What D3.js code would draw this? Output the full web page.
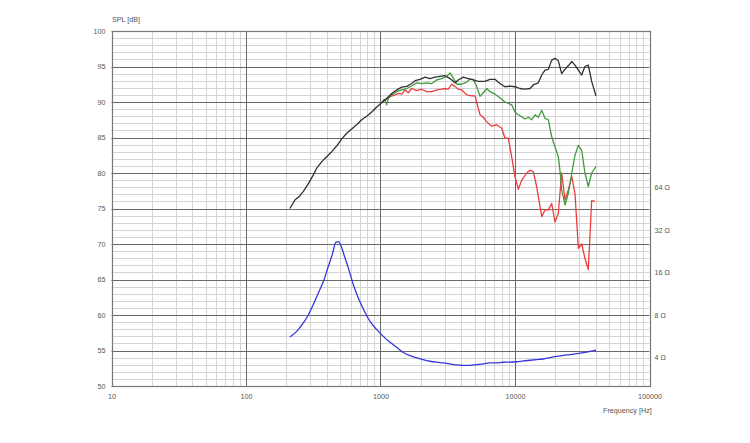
<!DOCTYPE html>
<html>
<head>
<meta charset="utf-8">
<script src="https://cdn.jsdelivr.net/npm/d3@7"></script>
<style>
  html, body { margin: 0; padding: 0; background: #fff; }
  svg { display: block; }
  text { font-family: "Liberation Sans", Arial, sans-serif; fill: #555; }
</style>
</head>
<body>
<svg id="chart" width="750" height="443"></svg>
<script>
// ---------------- data ----------------
const xTicks = [10, 100, 1000, 10000, 100000];
const yTicks = [50, 55, 60, 65, 70, 75, 80, 85, 90, 95, 100];
const impTicks = [4, 8, 16, 32, 64];

// on-axis SPL (black)
const freqBlack = [212, 231, 252, 267, 291, 316, 336, 366, 398, 434, 472, 515, 561, 611, 665, 725, 789, 861, 938,
  1021, 1112, 1211, 1319, 1439, 1567, 1706, 1807, 1968, 2143, 2333, 2541, 2767, 3020, 3289, 3581, 3784, 4130,
  4498, 4898, 5333, 5984, 6516, 7096, 7727, 8433, 9183, 10000, 10887, 11858, 12942, 13677, 14894, 15812, 16711,
  17701, 18750, 19815, 20989, 22233, 23550, 24889, 26424, 27925, 29580, 31333, 33113, 35075, 37154, 39994];
const splBlack = [75.0, 76.2, 76.8, 77.4, 78.5, 79.7, 80.7, 81.6, 82.3, 83.0, 83.8, 84.8, 85.6, 86.2, 86.8, 87.5, 88.0, 88.6, 89.3,
  89.9, 90.5, 91.2, 91.7, 92.1, 92.2, 92.6, 93.0, 93.2, 93.5, 93.3, 93.5, 93.6, 93.7, 93.3, 92.7, 93.1, 93.5,
  93.3, 93.1, 92.9, 92.9, 93.2, 93.2, 92.6, 92.15, 92.25, 92.15, 91.9, 91.8, 91.9, 92.4, 92.7, 93.8, 94.5,
  94.6, 95.9, 96.15, 95.8, 94.0, 94.6, 95.1, 95.7, 95.2, 94.5, 93.8, 95.0, 95.2, 92.9, 90.85];

// 30 degrees (green)
const freqGreen = [1021, 1080, 1112, 1143, 1211, 1319, 1439, 1567, 1706, 1858, 2023, 2203, 2404, 2618, 2851, 3105,
  3289, 3475, 3690, 3899, 4130, 4375, 4624, 4898, 5188, 5495, 5808, 6166, 6516, 7096, 7727, 8433, 9441, 10000,
  10593, 11220, 11858, 12560, 13305, 14092, 14894, 15812, 16711, 17701, 18750, 19815, 20989, 21627, 22233,
  23550, 24889, 26424, 27925, 29580, 31333, 33113, 35075, 37154, 39994];
const splGreen = [90.0, 90.4, 89.6, 90.5, 91.0, 91.45, 91.7, 91.9, 92.25, 92.7, 92.6, 92.7, 92.6, 93.1, 93.3, 93.6,
  94.1, 93.4, 92.5, 92.5, 92.6, 92.8, 93.2, 93.2, 92.2, 90.8, 91.3, 91.9, 91.45, 91.1, 90.6, 90.0, 89.6, 88.6,
  88.2, 87.9, 87.6, 87.85, 87.5, 88.2, 87.85, 88.8, 87.7, 87.5, 85.1, 83.7, 82.3, 80.2, 77.6,
  75.5, 77.1, 80.0, 82.5, 83.9, 83.2, 80.0, 78.1, 80.0, 80.9];

// 60 degrees (red)
const freqRed = [1049, 1112, 1177, 1282, 1356, 1439, 1521, 1610, 1706, 1858, 2023, 2203, 2404, 2618, 2851, 3020,
  3192, 3381, 3581, 3784, 4018, 4375, 4764, 5047, 5333, 5495, 5808, 6166, 6714, 7311, 7962, 8433, 8913, 9441,
  10000, 10593, 11220, 12218, 12942, 13677, 14488, 15346, 15812, 16711, 17701, 18750, 19815, 20989, 22233,
  23550, 24889, 26424, 27925, 29580, 31333, 33113, 35075, 37154, 39355];
const splRed = [90.3, 90.4, 90.75, 91.0, 91.2, 91.1, 91.7, 91.3, 91.9, 91.6, 91.8, 91.45, 91.45, 91.7, 91.8, 91.9,
  91.8, 92.5, 92.2, 91.8, 91.7, 91.0, 90.85, 90.85, 89.1, 88.2, 87.85, 87.2, 86.6, 86.8, 86.3, 84.9, 84.9, 82.3,
  79.5, 77.7, 79.0, 80.0, 80.4, 80.2, 78.1, 75.25, 73.85, 74.8, 74.8, 75.7, 73.1, 74.3, 80.0,
  76.2, 77.6, 79.5, 77.1, 69.4, 70.0, 68.0, 66.4, 76.1, 76.0];

// impedance (blue), ohms
const freqImp = [212, 238, 267, 291, 316, 345, 376, 409, 441, 464, 486, 506, 535, 577, 628, 684, 745, 836, 938,
  1049, 1177, 1319, 1479, 1656, 1858, 2080, 2333, 2618, 2931, 3289, 3690, 4130, 4624, 5188, 5808, 6516, 7311,
  8185, 9183, 10300, 11535, 12942, 14488, 16218, 18197, 20417, 22856, 25645, 28774, 32211, 36141, 39994];
const ohmImp = [5.6, 6.13, 7.03, 8.04, 9.46, 11.43, 13.8, 17.6, 21.9, 26.0, 26.4, 25.0, 21.3, 17.2, 13.1, 10.54, 8.82, 7.21, 6.30,
  5.65, 5.13, 4.73, 4.35, 4.13, 3.98, 3.87, 3.77, 3.71, 3.67, 3.61, 3.55, 3.53, 3.53, 3.57, 3.61, 3.67, 3.67,
  3.71, 3.72, 3.74, 3.79, 3.83, 3.87, 3.91, 4.0, 4.08, 4.15, 4.2, 4.27, 4.34, 4.42, 4.52];

// ---------------- chart ----------------
const svg = d3.select("#chart");
const L = 111.5, R = 649.5, T = 31, B = 386;

const x = d3.scaleLog().domain([10, 100000]).range([L, R]);
const y = d3.scaleLinear().domain([50, 100]).range([B, T]);
const z = d3.scaleLog().domain([4, 64]).range([y(54), y(78)]);

const crisp = v => Math.round(v) + 0.5;

// minor vertical grid
const minorX = [];
for (let d = 10; d < 100000; d *= 10) for (let k = 2; k <= 9; k++) minorX.push(d * k);
svg.append("g").selectAll("line").data(minorX).join("line")
  .attr("x1", d => crisp(x(d))).attr("x2", d => crisp(x(d)))
  .attr("y1", T).attr("y2", B)
  .attr("stroke", "#d4d4d4").attr("stroke-width", 1);

// minor horizontal grid
const minorY = d3.range(51, 100).filter(v => v % 5 !== 0);
svg.append("g").selectAll("line").data(minorY).join("line")
  .attr("x1", L).attr("x2", R)
  .attr("y1", d => crisp(y(d))).attr("y2", d => crisp(y(d)))
  .attr("stroke", "#d4d4d4").attr("stroke-width", 1);

// major grid
svg.append("g").selectAll("line").data(xTicks).join("line")
  .attr("x1", d => crisp(x(d))).attr("x2", d => crisp(x(d)))
  .attr("y1", T).attr("y2", B)
  .attr("stroke", "#6a6a6a").attr("stroke-width", 1);
svg.append("g").selectAll("line").data(yTicks).join("line")
  .attr("x1", L).attr("x2", R)
  .attr("y1", d => crisp(y(d))).attr("y2", d => crisp(y(d)))
  .attr("stroke", "#6a6a6a").attr("stroke-width", 1);

// frame
svg.append("rect")
  .attr("x", crisp(L)).attr("y", crisp(T))
  .attr("width", Math.round(R) - Math.round(L)).attr("height", Math.round(B) - Math.round(T))
  .attr("fill", "none").attr("stroke", "#777").attr("stroke-width", 1.2);

// axes labels via d3 axes (domain/tick lines hidden)
const fmt = d => String(d);
const gx = svg.append("g").attr("transform", `translate(0,${B})`)
  .call(d3.axisBottom(x).tickValues(xTicks).tickFormat(fmt).tickSize(0).tickPadding(8));
const gy = svg.append("g").attr("transform", `translate(${L},0)`)
  .call(d3.axisLeft(y).tickValues(yTicks).tickFormat(fmt).tickSize(0).tickPadding(6));
const gz = svg.append("g").attr("transform", `translate(${R},0)`)
  .call(d3.axisRight(z).tickValues(impTicks).tickFormat(d => d + " Ω").tickSize(0).tickPadding(5));
[gx, gy, gz].forEach(g => {
  g.select(".domain").remove();
  g.selectAll("text").attr("font-family", "'Liberation Sans', Arial, sans-serif")
    .attr("font-size", 7.2).attr("fill", "#555");
});

svg.append("text").attr("x", 112).attr("y", 21.5)
  .attr("font-size", 7.2).text("SPL [dB]");
svg.append("text").attr("x", 603).attr("y", 413)
  .attr("font-size", 7.2).text("Frequency [Hz]");

// curves
svg.append("clipPath").attr("id", "plotclip")
  .append("rect").attr("x", L).attr("y", T).attr("width", R - L).attr("height", B - T);
const plot = svg.append("g").attr("clip-path", "url(#plotclip)");

const lineSPL = d3.line().x(d => x(d[0])).y(d => y(d[1]));
const lineZ = d3.line().x(d => x(d[0])).y(d => z(d[1])).curve(d3.curveMonotoneX);

function draw(fr, vals, color, gen) {
  plot.append("path")
    .datum(fr.map((f, i) => [f, vals[i]]))
    .attr("d", gen)
    .attr("fill", "none")
    .attr("stroke", color)
    .attr("stroke-width", 1.3)
    .attr("stroke-linejoin", "round");
}
draw(freqImp, ohmImp, "#3535e0", lineZ);
draw(freqRed, splRed, "#ec3c3c", lineSPL);
draw(freqGreen, splGreen, "#42993f", lineSPL);
draw(freqBlack, splBlack, "#303030", lineSPL);
</script>
</body>
</html>
